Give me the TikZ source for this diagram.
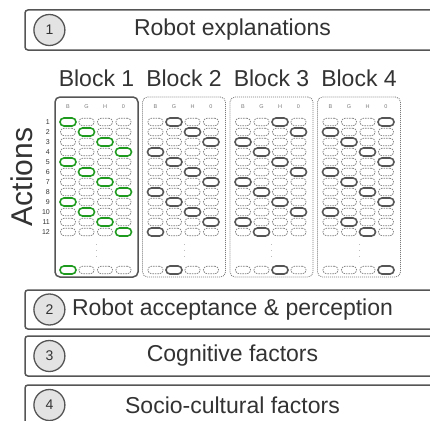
\documentclass[tikz,border=0pt]{standalone}
\usepackage{fontspec}
\setmainfont{Liberation Sans}
\usepackage{xcolor}
\usetikzlibrary{positioning}

\definecolor{boxgray}{HTML}{555555}
\definecolor{textgray}{HTML}{333333}
\definecolor{cellgray}{HTML}{7A7A7A}
\definecolor{pickgreen}{HTML}{1E9A1E}
\definecolor{circfill}{HTML}{E3E3E3}

\tikzset{
  factorbox/.style={draw=boxgray, line width=1.5pt, rounded corners=3pt, minimum width=415pt, minimum height=40pt, inner sep=0pt, text=textgray, font=\fontsize{23}{27}\selectfont},
  numcircle/.style={circle, draw=boxgray, line width=1.3pt, fill=circfill, minimum size=31pt, inner sep=0pt, text=textgray, font=\fontsize{14}{16}\selectfont},
  blocktitle/.style={text=textgray, anchor=base, font=\fontsize{23}{27}\selectfont},
  panel0/.style={draw=boxgray, line width=1.5pt, rounded corners=5pt, minimum width=83pt, minimum height=180pt},
  panelx/.style={draw=cellgray, line width=0.8pt, dash pattern=on 1pt off 1pt, rounded corners=5pt, minimum width=83pt, minimum height=180pt},
  panel1/.style={panelx}, panel2/.style={panelx}, panel3/.style={panelx},
  cell/.style={draw=cellgray, line width=0.7pt, dash pattern=on 1.5pt off 1pt, rounded corners=3.5pt, minimum width=15pt, minimum height=7.5pt, inner sep=0pt},
  pickx/.style={draw=boxgray, line width=1.6pt, rounded corners=4pt, minimum width=16pt, minimum height=8pt, inner sep=0pt},
  pick0/.style={pickx, draw=pickgreen},
  pick1/.style={pickx}, pick2/.style={pickx}, pick3/.style={pickx},
  colhead/.style={text=cellgray, inner sep=0pt, font=\fontsize{5.5}{6}\selectfont},
  rownum/.style={text=textgray, anchor=east, inner sep=0pt, font=\fontsize{7}{8}\selectfont}
}

\begin{document}
\begin{tikzpicture}[x=1pt,y=-1pt]
\useasboundingbox (0,0) rectangle (430,420);
\clip (0,0) rectangle (430,420);

% factor boxes with their numbers
\node[factorbox] (expl) at (232.5,30) {Robot explanations};
\node[numcircle, right=9pt of expl.west] (n1) {1};
\node[factorbox, minimum height=39pt] (accept) at (232.5,309.5) {Robot acceptance \& perception};
\node[numcircle, right=9pt of accept.west] (n2) {2};
\node[factorbox] (cogn) at (232.5,356) {Cognitive factors};
\node[numcircle, right=9pt of cogn.west] (n3) {3};
\node[factorbox] (socio) at (232.5,405) {Socio-cultural factors};
\node[numcircle, right=9pt of socio.west] (n4) {4};

% y axis label and action numbers
\node[text=textgray, rotate=90, font=\fontsize{30}{34}\selectfont] (actions) at (22,177) {Actions};
\foreach \r in {1,...,12}
  \node[rownum] (row\r) at (50,112+10*\r) {\r};

% the four blocks
\foreach \b in {0,...,3}{
  \pgfmathsetmacro{\bx}{55+87.5*\b}
  \pgfmathtruncatemacro{\bn}{\b+1}
  \node[panel\b] (p\b) at (\bx+41.5,187) {};
  \node[blocktitle] (t\b) at (\bx+41.5,86) {Block \bn};
  \foreach \c/\h in {0/B,1/G,2/H,3/0}
    \node[colhead] (h\b-\c) at (\bx+13+18.5*\c,107) {\h};
  \foreach \r in {1,...,12}{
    \pgfmathtruncatemacro{\sel}{mod(\r-1+\b,4)}
    \foreach \c in {0,...,3}{
      \ifnum\c=\sel
        \node[pick\b] (b\b-r\r-c\c) at (\bx+13+18.5*\c,112+10*\r) {};
      \else
        \node[cell] (b\b-r\r-c\c) at (\bx+13+18.5*\c,112+10*\r) {};
      \fi
    }
  }
  % last action
  \foreach \c in {0,...,3}{
    \ifnum\c=\b
      \node[pick\b] (b\b-last-c\c) at (\bx+13+18.5*\c,270) {};
    \else
      \node[cell] (b\b-last-c\c) at (\bx+13+18.5*\c,270) {};
    \fi
  }
  \draw[cellgray!50, line width=1pt, dash pattern=on 1pt off 5pt] (\bx+41.5,244) -- (\bx+41.5,262);
}
\end{tikzpicture}
\end{document}
